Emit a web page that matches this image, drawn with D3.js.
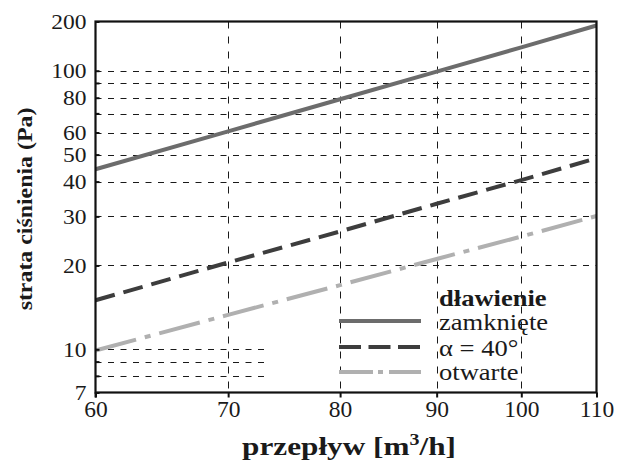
<!DOCTYPE html>
<html>
<head>
<meta charset="utf-8">
<script src="https://cdn.jsdelivr.net/npm/d3@7"></script>
<style>
  html, body { margin: 0; padding: 0; background: #fff; }
  svg { display: block; }
  svg text { font-family: "Liberation Serif", "Times New Roman", "DejaVu Serif", serif; }
</style>
</head>
<body>
<div id="chart"></div>
<script>
// Flow rates (m³/h) at which the curves are read
const flow = [60, 70, 80, 90, 100, 110];

// Pressure loss (Pa) for each damper setting
const zamkniete = [44.3, 60.6, 79, 99.3, 139, 189];
const alpha40   = [15.0, 20.5, 26.5, 33.3, 40.5, 48.5];
const otwarte   = [9.9, 13.3, 17.0, 21.1, 25.4, 30.1];

// Axis ticks
const xTicks = [60, 70, 80, 90, 100, 110];
const yLabelTicks = [7, 10, 20, 30, 40, 50, 60, 80, 100, 200];
const yMinorTicks = [8, 9, 70, 90];
const yGridFull = [20, 30, 40, 50, 60, 70, 80, 90, 100];
const yGridShort = [8, 9, 10];
const xGrid = [70, 80, 90, 100];

// Legend
const legendTitle = "dławienie";
const seriesNames = ["zamknięte", "α = 40°", "otwarte"];

const W = 623, H = 464;
const margin = { top: 21.5, right: 26.5, bottom: 71.5, left: 95.5 };
const innerBottom = H - margin.bottom;
const innerRight = W - margin.right;
const upperBand = 49.2;       // height of the 100–200 band
const shortGridEnd = 73.2;    // flow value where the low grid lines stop

const svg = d3.select("#chart").append("svg")
  .attr("width", W).attr("height", H);

const x = d3.scalePow().exponent(-0.18)
  .domain([60, 110])
  .range([margin.left, innerRight]);

const y = d3.scaleLog()
  .domain([7, 100, 200])
  .range([innerBottom, margin.top + upperBand, margin.top]);

const ink = "#1a1a1a";
const gridColor = "#1a1a1a";

// Grid lines
const grid = svg.append("g")
  .attr("stroke", gridColor).attr("stroke-width", 1)
  .attr("stroke-dasharray", "6,6.5").attr("fill", "none");

grid.selectAll("line.hf").data(yGridFull).join("line")
  .attr("class", "hf")
  .attr("x1", margin.left).attr("x2", innerRight)
  .attr("y1", d => Math.round(y(d)) + 0.5).attr("y2", d => Math.round(y(d)) + 0.5);

grid.selectAll("line.hs").data(yGridShort).join("line")
  .attr("class", "hs")
  .attr("x1", margin.left).attr("x2", x(shortGridEnd))
  .attr("y1", d => Math.round(y(d)) + 0.5).attr("y2", d => Math.round(y(d)) + 0.5);

grid.selectAll("line.v").data(xGrid).join("line")
  .attr("class", "v")
  .attr("x1", d => Math.round(x(d)) + 0.5).attr("x2", d => Math.round(x(d)) + 0.5)
  .attr("y1", margin.top).attr("y2", innerBottom)
  .attr("stroke-dasharray", "7,8");

// Data lines
const line = d3.line()
  .x((d, i) => x(flow[i]))
  .y(d => y(d));

const series = [
  { name: seriesNames[0], values: zamkniete, color: "#6c6c6c", dash: null,       legendDash: null },
  { name: seriesNames[1], values: alpha40,   color: "#3d3d3d", dash: "20,9",     legendDash: "22,7.5" },
  { name: seriesNames[2], values: otwarte,   color: "#b0b0b0", dash: "42,9,6,9", legendDash: "34,5,5,6" }
];

svg.append("g").selectAll("path").data(series).join("path")
  .attr("d", d => line(d.values))
  .attr("fill", "none")
  .attr("stroke", d => d.color)
  .attr("stroke-width", 4)
  .attr("stroke-dasharray", d => d.dash);

// Frame
svg.append("rect")
  .attr("x", margin.left).attr("y", margin.top)
  .attr("width", innerRight - margin.left)
  .attr("height", innerBottom - margin.top)
  .attr("fill", "none").attr("stroke", "#111").attr("stroke-width", 2.2);

// X axis
const xAxis = d3.axisBottom(x)
  .tickValues(xTicks).tickSize(5).tickPadding(3)
  .tickFormat(d3.format("d"));
const gx = svg.append("g")
  .attr("transform", `translate(0,${innerBottom})`)
  .call(xAxis);
gx.attr("font-family", null);
gx.select(".domain").remove();
gx.selectAll(".tick line").attr("stroke", "#111").attr("stroke-width", 2);
gx.selectAll(".tick text")
  .attr("font-size", 23.5).attr("fill", ink);

// Y axis: labelled ticks with inward tick marks, glyphs slightly widened
const yStretch = 1.12;
const yLabelGap = 9;
const yAxis = d3.axisLeft(y)
  .tickValues(yLabelTicks).tickSize(-4).tickPadding(yLabelGap)
  .tickFormat(d3.format("d"));
const gy = svg.append("g")
  .attr("transform", `translate(${margin.left},0)`)
  .call(yAxis);
gy.attr("font-family", null);
gy.select(".domain").remove();
gy.selectAll(".tick line").attr("stroke", "#111").attr("stroke-width", 2);
gy.selectAll(".tick text")
  .attr("font-size", 21).attr("fill", ink)
  .attr("x", -yLabelGap / yStretch)
  .attr("transform", `scale(${yStretch},1)`);

// Unlabelled minor ticks on the y axis
svg.append("g").selectAll("line").data(yMinorTicks).join("line")
  .attr("x1", margin.left).attr("x2", margin.left + 4)
  .attr("y1", d => y(d)).attr("y2", d => y(d))
  .attr("stroke", "#111").attr("stroke-width", 2);

// Short extension of the left axis below the frame
svg.append("line")
  .attr("x1", margin.left).attr("x2", margin.left)
  .attr("y1", innerBottom).attr("y2", innerBottom + 5)
  .attr("stroke", "#111").attr("stroke-width", 2);

// Axis titles (widened glyphs)
const xTitle = svg.append("g")
  .attr("transform", `translate(${(margin.left + innerRight) / 2 + 3},455) scale(1.25,1)`);
xTitle.append("text")
  .attr("text-anchor", "middle")
  .attr("font-size", 25).attr("font-weight", "bold").attr("fill", ink)
  .call(t => {
    t.append("tspan").text("przepływ [m");
    t.append("tspan").attr("font-size", 16).attr("dy", -10).text("3");
    t.append("tspan").attr("dy", 10).text("/h]");
  });

svg.append("text")
  .attr("transform", `translate(32,${(margin.top + innerBottom) / 2 + 2}) rotate(-90) scale(1.085,1)`)
  .attr("text-anchor", "middle")
  .attr("font-size", 22).attr("font-weight", "bold").attr("fill", ink)
  .text("strata ciśnienia (Pa)");

// Legend
const legendX = 439;
const legendStretch = 1.18;
const lg = svg.append("g");
lg.append("g")
  .attr("transform", `translate(${legendX},306) scale(${legendStretch},1)`)
  .append("text")
  .attr("font-size", 22.5).attr("font-weight", "bold").attr("fill", ink)
  .text(legendTitle);

const legendRowY = [321, 347, 372];
const legendTextY = [330, 356, 380];
const items = lg.selectAll("g.item").data(series).join("g").attr("class", "item");
items.append("line")
  .attr("x1", 339).attr("x2", 421)
  .attr("y1", (d, i) => legendRowY[i]).attr("y2", (d, i) => legendRowY[i])
  .attr("stroke", d => d.color).attr("stroke-width", 4)
  .attr("stroke-dasharray", d => d.legendDash);
items.append("g")
  .attr("transform", (d, i) => `translate(${legendX},${legendTextY[i]}) scale(${legendStretch},1)`)
  .append("text")
  .attr("font-size", 22.5).attr("fill", ink)
  .text(d => d.name);
</script>
</body>
</html>
